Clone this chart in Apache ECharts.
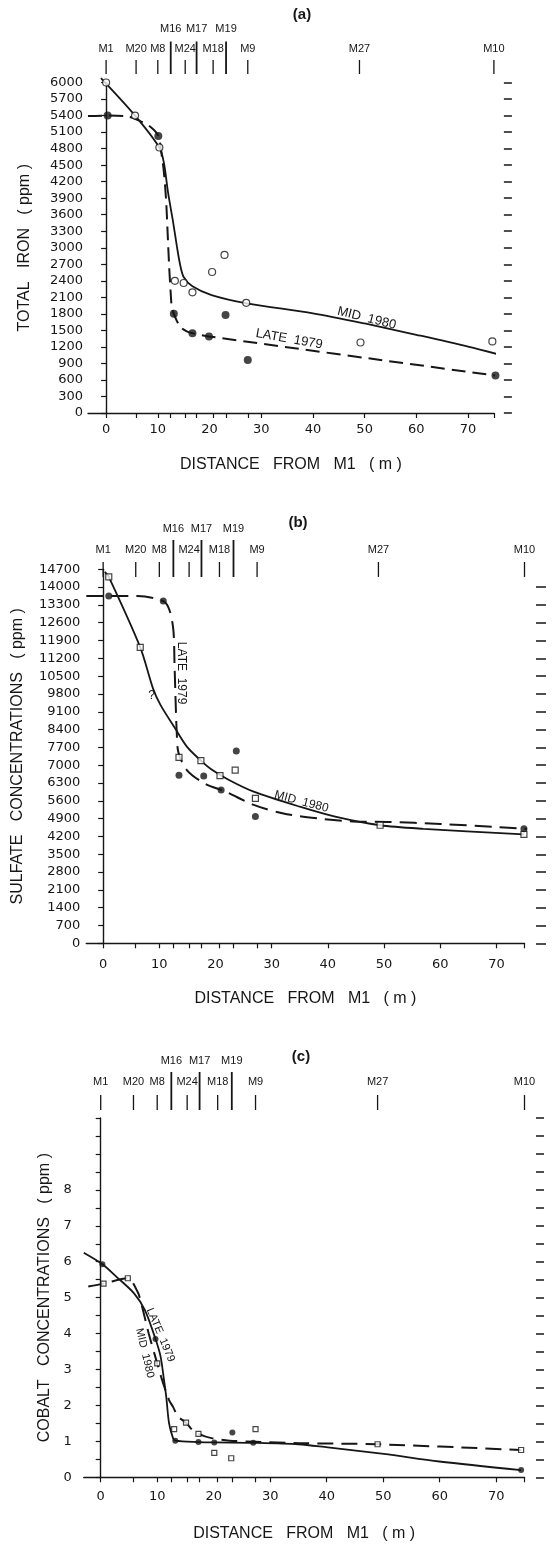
<!DOCTYPE html>
<html>
<head>
<meta charset="utf-8">
<title>Iron, sulfate and cobalt along the M1 transect</title>
<script src="https://cdn.jsdelivr.net/npm/echarts@6.0.0/dist/echarts.min.js"></script>
<style>
  html, body { margin: 0; padding: 0; background: #fff; }
  #chart { width: 553px; height: 1545px; }
</style>
</head>
<body>
<div id="chart"></div>
<script>
// wells marked along the top of each panel (distance from M1, m)
const wellNames = ["M1", "M20", "M8", "M16", "M24", "M17", "M18", "M19", "M9", "M27", "M10"];
const wellDist = [0, 5.8, 10, 12.5, 15.3, 17.5, 20.7, 23.2, 27.4, 49, 75];
const upperWells = ["M16", "M17", "M19"];

const xLabels = [0, 10, 20, 30, 40, 50, 60, 70];
const xTicks = [0, 5.8, 10, 12.5, 15.3, 17.5, 20.7, 23.2, 27.4, 30, 40, 50, 60, 70, 75];

// (a) total iron, ppm
const ironMid = [[0, 6000], [5.6, 5400], [10.3, 4820], [13.3, 2400], [15.0, 2360], [16.7, 2190],
  [20.5, 2560], [22.9, 2870], [27.1, 2000], [49.2, 1280], [74.7, 1300]];
const ironLate = [[0.3, 5400], [10.1, 5030], [13.1, 1800], [16.7, 1450], [19.9, 1390],
  [23.1, 1780], [27.4, 960], [75.3, 680]];
const ironMidCurve = [[-1.0, 6080], [5.6, 5400], [10.3, 4820], [11.2, 4530], [12.0, 3990],
  [12.9, 3500], [13.7, 3020], [14.3, 2700], [15.0, 2470], [16.7, 2300], [20.4, 2140], [27.2, 1990],
  [40.0, 1810], [50.0, 1625], [60.0, 1420], [70.0, 1205], [80.1, 960]];
const ironLateCurve = [[-3.5, 5390], [0.3, 5400], [4.3, 5380], [6.6, 5300], [8.5, 5200], [10.1, 5030],
  [10.8, 4650], [11.2, 4350], [11.6, 3870], [11.9, 3270], [12.2, 2650], [12.5, 2170], [12.7, 1930],
  [13.1, 1800], [14.3, 1570], [15.6, 1480], [16.7, 1450], [19.9, 1390], [75.3, 680]];

// (b) sulfate, ppm
const sulfMid = [[1.0, 14400], [6.6, 11630], [13.5, 7310], [17.4, 7180], [20.8, 6590], [23.5, 6810],
  [27.1, 5700], [49.3, 4640], [74.9, 4280]];
const sulfLate = [[1.0, 13650], [10.7, 13450], [13.5, 6610], [17.9, 6580], [21.0, 6030], [23.7, 7560],
  [27.1, 4980], [74.9, 4500]];
const sulfMidCurve = [[0.3, 14600], [1.0, 14400], [6.6, 11630], [8.9, 10000], [10.2, 9370], [12.8, 8450],
  [14.9, 7730], [17.4, 7180], [19.3, 6830], [22.4, 6420], [26.8, 5960], [35.0, 5370], [41.3, 4980],
  [49.3, 4640], [57.0, 4500], [74.9, 4280]];
const sulfLateCurve = [[-3.0, 13650], [1.0, 13650], [6.1, 13650], [10.7, 13450], [11.8, 13100],
  [12.5, 12310], [12.7, 11000], [12.9, 9500], [13.1, 8300], [13.4, 7500], [14.9, 6810], [18.0, 6290],
  [21.8, 5960], [26.8, 5440], [31.9, 5110], [38.2, 4910], [44.4, 4790], [50.7, 4770], [60.1, 4690],
  [69.5, 4580], [74.9, 4500], [79.9, 4420]];

// (c) cobalt, ppm
const cobLate = [[0.3, 5.93], [9.7, 3.85], [13.2, 1.02], [17.3, 0.98], [20.1, 0.97], [23.3, 1.25],
  [27.0, 0.96], [74.4, 0.20]];
const cobMid = [[0.5, 5.39], [4.8, 5.54], [10.0, 3.17], [13.0, 1.34], [15.1, 1.52], [17.3, 1.21],
  [20.1, 0.68], [23.1, 0.53], [27.4, 1.34], [49.0, 0.92], [74.4, 0.76]];
const cobLateCurve = [[-3.0, 6.25], [0.3, 5.93], [2.8, 5.58], [5.9, 5.12], [7.8, 4.66], [9.7, 3.85],
  [10.6, 3.36], [11.2, 2.71], [11.6, 2.24], [12.1, 1.50], [12.8, 1.09], [13.2, 1.02], [17.3, 0.98],
  [20.1, 0.97], [27.0, 0.96], [35.0, 0.92], [40.2, 0.83], [50.1, 0.65], [59.9, 0.44], [74.4, 0.20]];
const cobMidCurve = [[-2.2, 5.31], [0.5, 5.39], [4.8, 5.54], [6.5, 5.17], [7.1, 4.89], [8.5, 4.0],
  [10.0, 3.17], [10.7, 2.79], [12.1, 2.15], [12.8, 1.96], [13.7, 1.69], [15.1, 1.52], [16.2, 1.32],
  [17.3, 1.21], [19.6, 1.09], [22.8, 1.02], [27.3, 0.99], [35.2, 0.95], [49.0, 0.92], [74.4, 0.76]];

// curve labels (data coordinates, rotation in degrees)
const ironNotes = [
  { text: "MID  1980", x: 50.4, y: 1720, rot: -14 },
  { text: "LATE  1979", x: 35.4, y: 1340, rot: -10 }
];
const sulfNotes = [
  { text: "LATE  1979", x: 14.0, y: 10620, rot: -90 },
  { text: "?", x: 8.6, y: 9720, rot: 0 },
  { text: "MID  1980", x: 35.3, y: 5565, rot: -15 }
];
const cobNotes = [
  { text: "LATE  1979", x: 10.6, y: 3.96, rot: -67 },
  { text: "MID  1980", x: 7.8, y: 3.46, rot: -77 }
];

const INK = "#161616";
const FONT = "Liberation Sans";
const NUM_FONT = "DejaVu Sans";

const panels = [
  {
    title: "(a)", titleX: 302, titleY: 15,
    grid: { left: 88, top: 82.5, width: 405.9, height: 330.5 },
    xMin: -3.5, yMax: 6000, yStep: 300,
    yName: "TOTAL   IRON   ( ppm )", yNameGap: 55, yMargin: 5,
    xMargin: 10, xNameGap: 44, rightOffset: 10, rightLen: 8,
    wells: { tickTop: 60, tickBot: 74, tallTop: 41.5, row1: 49, row2: 28.5 },
    dash: [14, 7], openSym: "circle", openSize: 7, fillSize: 8,
    solid: ironMidCurve, dashed: ironLateCurve, open: ironMid, filled: ironLate, notes: ironNotes,
    noteFont: 13
  },
  {
    title: "(b)", titleX: 298, titleY: 523,
    grid: { left: 86.3, top: 569.3, width: 438.2, height: 374 },
    xMin: -3, yMax: 14700, yStep: 700,
    yName: "SULFATE   CONCENTRATIONS   ( ppm )", yNameGap: 61, yMargin: 6,
    xMargin: 15, xNameGap: 47, rightOffset: 11.5, rightLen: 10,
    wells: { tickTop: 562, tickBot: 577, tallTop: 540, row1: 549.5, row2: 528.5 },
    dash: [17, 8], openSym: "rect", openSize: 6, fillSize: 7,
    solid: sulfMidCurve, dashed: sulfLateCurve, open: sulfMid, filled: sulfLate, notes: sulfNotes,
    noteFont: 12
  },
  {
    title: "(c)", titleX: 301, titleY: 1057,
    grid: { left: 83.75, top: 1118, width: 440.75, height: 359.3 },
    xMin: -3, yMax: 10, yStep: 0.5,
    yName: "COBALT   CONCENTRATIONS   ( ppm )", yNameGap: 26, yMargin: 12,
    xMargin: 13, xNameGap: 48, rightOffset: 11.5, rightLen: 8,
    wells: { tickTop: 1095, tickBot: 1110, tallTop: 1072, row1: 1081.5, row2: 1061 },
    dash: [16, 8], openSym: "rect", openSize: 5, fillSize: 6,
    // in (c) the solid line runs through the filled points
    solid: cobLateCurve, dashed: cobMidCurve, open: cobMid, filled: cobLate, notes: cobNotes,
    noteFont: 11
  }
];

const grids = [];
const xAxes = [];
const yAxes = [];
const series = [];
const graphics = [];
const plain = (v) => String(v);

panels.forEach((p, i) => {
  grids.push(Object.assign({ containLabel: false }, p.grid));

  xAxes.push({
    gridIndex: i, type: "value", min: p.xMin, max: 75,
    axisLine: { show: true, onZero: false, lineStyle: { color: INK, width: 1.4 } },
    axisTick: { show: true, customValues: xTicks, length: 5, lineStyle: { color: INK, width: 1.2 } },
    axisLabel: { customValues: xLabels, formatter: plain, margin: p.xMargin, fontSize: 13, fontFamily: NUM_FONT, color: INK },
    splitLine: { show: false },
    name: "DISTANCE   FROM   M1   ( m )", nameLocation: "middle", nameGap: p.xNameGap,
    nameTextStyle: { fontFamily: FONT, fontSize: 16, color: INK }
  });

  const steps = [];
  for (let v = 0; v <= p.yMax + 1e-9; v += p.yStep) steps.push(+v.toFixed(2));
  const isCobalt = i === 2;
  const labelVals = isCobalt ? [0, 1, 2, 3, 4, 5, 6, 7, 8] : steps;

  yAxes.push({
    gridIndex: i, type: "value", min: 0, max: p.yMax,
    axisLine: { show: true, lineStyle: { color: INK, width: 1.4 } },
    axisTick: { show: true, customValues: steps, length: 5, lineStyle: { color: INK, width: 1.2 } },
    axisLabel: { customValues: labelVals, formatter: plain, margin: p.yMargin, fontSize: 13, fontFamily: NUM_FONT, color: INK },
    splitLine: { show: false },
    name: p.yName, nameLocation: "middle", nameGap: p.yNameGap,
    nameTextStyle: { fontFamily: FONT, fontSize: 16, color: INK }
  });
  // detached tick marks on the right-hand side
  yAxes.push({
    gridIndex: i, type: "value", min: 0, max: p.yMax, position: "right", offset: p.rightOffset,
    axisLine: { show: false },
    axisTick: {
      show: true, customValues: i === 1 ? steps.slice(0, -1) : steps,
      length: p.rightLen, lineStyle: { color: INK, width: 1.5 }
    },
    axisLabel: { show: false },
    splitLine: { show: false }
  });

  const yIdx = i * 2;
  series.push({
    type: "line", xAxisIndex: i, yAxisIndex: yIdx, data: p.solid, showSymbol: false,
    smooth: 0.3, clip: false, silent: true,
    lineStyle: { color: INK, width: 1.8 }, z: 2
  });
  series.push({
    type: "line", xAxisIndex: i, yAxisIndex: yIdx, data: p.dashed, showSymbol: false,
    smooth: 0.3, clip: false, silent: true,
    lineStyle: { color: INK, width: 2, type: p.dash }, z: 2
  });
  series.push({
    type: "scatter", xAxisIndex: i, yAxisIndex: yIdx, data: p.open, symbol: p.openSym,
    symbolSize: p.openSize, clip: false, silent: true,
    itemStyle: { color: "#fff", borderColor: INK, borderWidth: 1.2 }, z: 4
  });
  series.push({
    type: "scatter", xAxisIndex: i, yAxisIndex: yIdx, data: p.filled, symbol: "circle",
    symbolSize: p.fillSize, clip: false, silent: true,
    itemStyle: { color: INK }, z: 4
  });

  // well positions along the top
  const L = p.wells;
  series.push({
    type: "custom", xAxisIndex: i, yAxisIndex: yIdx, silent: true, z: 3,
    data: wellDist.map((d) => [d, 0]),
    renderItem: (params, api) => {
      const name = wellNames[params.dataIndex];
      const x = api.coord([api.value(0), 0])[0];
      const tall = upperWells.includes(name);
      return {
        type: "group",
        children: [
          {
            type: "line",
            shape: { x1: x, y1: tall ? L.tallTop : L.tickTop, x2: x, y2: L.tickBot },
            style: { stroke: INK, lineWidth: tall ? 1.8 : 1.3 }
          },
          {
            type: "text",
            style: {
              text: name, x: x, y: tall ? L.row2 : L.row1, align: "center", verticalAlign: "middle",
              font: "11px '" + FONT + "'", fill: INK
            }
          }
        ]
      };
    }
  });

  // curve labels
  series.push({
    type: "custom", xAxisIndex: i, yAxisIndex: yIdx, silent: true, z: 5,
    data: p.notes.map((n) => [n.x, n.y]),
    renderItem: (params, api) => {
      const n = p.notes[params.dataIndex];
      const pt = api.coord([api.value(0), api.value(1)]);
      return {
        type: "text", x: pt[0], y: pt[1], rotation: n.rot * Math.PI / 180,
        style: {
          text: n.text, x: 0, y: 0, align: "center", verticalAlign: "middle",
          font: p.noteFont + "px '" + FONT + "'", fill: INK
        }
      };
    }
  });

  graphics.push({
    type: "text", x: p.titleX, y: p.titleY,
    style: { text: p.title, align: "center", verticalAlign: "middle", font: "bold 15px '" + FONT + "'", fill: INK }
  });
});

const chart = echarts.init(document.getElementById("chart"), null, { renderer: "canvas" });
chart.setOption({
  animation: false,
  backgroundColor: "#fff",
  grid: grids,
  xAxis: xAxes,
  yAxis: yAxes,
  series: series,
  graphic: graphics
});
</script>
</body>
</html>
